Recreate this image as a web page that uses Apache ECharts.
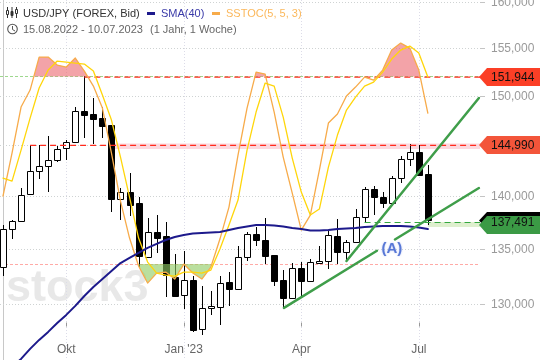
<!DOCTYPE html>
<html>
<head>
<meta charset="utf-8">
<style>html,body{margin:0;padding:0;background:#fff}#c{width:540px;height:360px}</style>
<script src="https://cdn.jsdelivr.net/npm/echarts@6/dist/echarts.min.js"></script>
</head>
<body>
<div id="c"></div>
<script>
const title = 'USD/JPY (FOREX, Bid)';
const dateRange = '15.08.2022 - 10.07.2023';
const rangeNote = '(1 Jahr, 1 Woche)';
const smaName = 'SMA(40)';
const stocName = 'SSTOC(5, 5, 3)';
const watermark = 'stock3';

const xTickIndex = [7, 20, 33, 46];
const xTickLabels = ['Okt', "Jan '23", 'Apr', 'Jul'];
const yTicks = [130, 135, 140, 145, 150, 155, 160];
const yTickLabels = ['130,000', '135,000', '140,000', '', '150,000', '155,000', '160,000'];

const opens = [133.31,136.86,137.61,140.19,142.42,142.91,143.50,144.69,145.35,148.45,148.14,147.74,147.03,139.71,140.38,139.33,134.30,136.57,136.23,132.46,130.79,132.16,127.76,129.62,129.77,131.98,131.37,134.24,136.42,135.85,134.46,132.16,130.56,133.22,132.10,133.75,133.93,136.23,134.76,135.67,137.98,140.67,139.96,139.38,141.74,143.60,144.29,142.16];
const closes = [136.86,137.61,140.09,142.42,142.91,143.50,144.65,145.35,148.42,148.07,147.66,146.96,139.71,140.38,139.19,134.36,136.57,136.07,132.62,130.75,132.16,127.70,129.62,129.80,131.86,131.37,134.24,136.39,135.89,134.39,132.10,130.56,133.22,132.10,133.78,133.93,136.27,134.76,135.64,137.98,140.67,139.96,139.38,141.74,143.60,144.29,142.06,137.73];
const highs = [137.26,137.73,140.79,145.02,145.02,145.92,144.92,145.52,148.85,152.02,149.78,148.85,147.03,140.76,142.23,139.90,137.95,138.20,137.57,134.55,134.85,132.55,131.62,131.17,132.52,132.89,135.30,136.60,137.10,137.89,134.46,133.07,133.69,133.78,134.05,135.30,136.65,137.80,135.85,138.78,140.87,141.00,140.43,141.97,143.93,145.12,145.02,143.04];
const lows = [132.55,135.92,137.61,140.19,141.70,140.44,143.36,143.56,145.25,145.75,145.15,145.72,138.52,137.73,138.11,133.26,134.25,134.61,130.66,130.75,129.56,127.55,127.26,129.03,128.14,129.83,131.37,133.93,135.32,133.62,131.65,129.67,130.56,130.72,131.95,133.75,133.13,133.62,133.93,135.67,137.57,138.20,138.84,139.33,141.30,142.94,142.06,137.26];

const sma40 = [123.8,124.49,125.18,126.05,126.83,127.53,128.32,129.03,129.83,130.72,131.53,132.25,132.98,133.71,134.18,134.65,135.11,135.48,135.85,136.13,136.32,136.46,136.51,136.55,136.60,136.79,136.98,137.12,137.26,137.26,137.21,137.12,136.98,136.88,136.74,136.74,136.79,136.88,136.93,136.98,137.07,137.12,137.17,137.17,137.17,137.12,137.02,136.88];
const sstocK = [41.76,55.52,70.24,75.68,86.24,86.24,83.68,83.04,85.92,81.76,76.96,69.92,55.52,40.16,28.32,19.36,13.92,17.12,17.44,15.2,20.0,17.12,15.2,19.04,28.0,38.24,54.88,69.92,81.44,80.8,68.64,54.24,42.72,30.88,35.68,50.08,65.12,68.0,73.76,76.64,79.84,78.88,82.08,88.48,90.72,89.12,82.08,68.32];
const sstocD = [47.52,46.56,56.48,66.72,76.32,82.08,84.96,84.64,84.32,84.0,81.76,74.08,66.08,54.24,41.44,28.32,20.64,17.12,16.48,16.16,17.44,17.44,17.12,18.08,24.8,32.48,40.48,56.48,68.64,77.92,76.96,67.04,53.92,43.04,35.68,37.6,51.04,61.28,69.28,73.44,76.96,78.24,81.44,85.6,88.48,89.76,87.52,79.84];
const stocUpper = 80;
const stocLower = 20;

const levelPrices = [151.944, 144.990, 137.491];
const levelStarts = [9, 3, 40];
const levelColors = ['#ff2a1c', '#ff2a1c', '#34a83f'];
const tagColors = ['#fb3f26', '#f3553a', '#3b9a45'];
const tagLabels = ['151,944', '144,990', '137,491'];

const bandHigh = [145.17, 137.54];
const bandLow = [144.62, 137.07];
const bandStart = [12, 47];
const bandColors = ['#fcd8de', '#deefce'];

const trendA1 = [[31.08, 129.65], [41.37, 134.85]];
const trendA2 = [[43.36, 135.9], [52.65, 140.79]];
const trendB = [[38, 133.9], [52.65, 149.78]];
const trendLabelPos = [[43.03, 135.0]];

const xMin = -0.33, xMax = 52.77;
const yMin = 125.09, yMax = 160.22;
const FONT = '"Liberation Sans", Arial, sans-serif';

const candleData = opens.map((o, i) => [i, o, closes[i], highs[i], lows[i]]);

function candleItem(params, api) {
  const i = api.value(0);
  const o = api.coord([i, api.value(1)]);
  const c = api.coord([i, api.value(2)]);
  const h = api.coord([i, api.value(3)]);
  const l = api.coord([i, api.value(4)]);
  const X = Math.round(o[0]) + 0.5;
  const up = api.value(2) >= api.value(1);
  const top = Math.round(Math.min(o[1], c[1])) + 0.5;
  const bot = Math.round(Math.max(o[1], c[1])) + 0.5;
  return {
    type: 'group',
    children: [
      { type: 'line', shape: { x1: X, y1: Math.round(h[1]), x2: X, y2: Math.round(l[1]) }, style: { stroke: '#000', lineWidth: 1 } },
      { type: 'rect', shape: { x: X - 3, y: top, width: 6, height: Math.max(bot - top, 1) }, style: { fill: up ? '#fff' : '#000', stroke: '#000', lineWidth: 1 } }
    ]
  };
}

function hLineItem(color, dash, snap) {
  return function (params, api) {
    const p0 = api.coord([api.value(0), api.value(1)]);
    const p1 = api.coord([xMax, api.value(1)]);
    const y = snap(p0[1]) + 0.5;
    return { type: 'line', shape: { x1: p0[0], y1: y, x2: p1[0], y2: y }, style: { stroke: color, lineWidth: 1, lineDash: dash } };
  };
}

function fillRuns(values, level, above) {
  const runs = [];
  let cur = null;
  const test = v => above ? v >= level : v <= level;
  for (let i = 0; i < values.length; i++) {
    const v = values[i];
    if (test(v)) {
      if (!cur) {
        cur = [];
        if (i > 0) cur.push([i - 1 + (level - values[i - 1]) / (v - values[i - 1]), level]);
      }
      cur.push([i, v]);
    } else if (cur) {
      cur.push([i - 1 + (level - values[i - 1]) / (v - values[i - 1]), level]);
      runs.push(cur);
      cur = null;
    }
  }
  if (cur) runs.push(cur);
  return runs;
}

const upperRuns = fillRuns(sstocK, stocUpper, true);
const lowerRuns = fillRuns(sstocK, stocLower, false);

function fillSeries(runs, level, color, z) {
  return {
    type: 'custom', yAxisIndex: 1, z, silent: true,
    data: runs.map(r => [r[0][0], level]),
    renderItem(params, api) {
      const pts = runs[params.dataIndex].map(p => api.coord(p));
      return { type: 'polygon', shape: { points: pts }, style: { fill: color, opacity: 0.62 } };
    }
  };
}

function lineSeries(name, data, color, width, z, yAxisIndex) {
  return { name, type: 'line', data, yAxisIndex: yAxisIndex || 0, showSymbol: false, symbol: 'none', silent: true, z,
    lineStyle: { color, width, cap: 'round', join: 'round' } };
}

const series = [
  {
    type: 'custom', z: 1, silent: true,
    data: yTicks.map(v => [xMin, v]),
    renderItem(params, api) {
      const p0 = api.coord([xMin, api.value(1)]);
      const p1 = api.coord([xMax, api.value(1)]);
      const y = Math.round(p0[1]) + 0.5;
      const lab = yTickLabels[params.dataIndex];
      const kids = [
        { type: 'line', shape: { x1: p0[0], y1: y, x2: p1[0], y2: y }, style: { stroke: '#cfd3d3', lineWidth: 1, lineDash: [1, 2] } },
        { type: 'line', shape: { x1: p1[0], y1: y, x2: p1[0] + 5, y2: y }, style: { stroke: '#c4c4c4', lineWidth: 1 } }
      ];
      if (lab) kids.push({ type: 'text', style: { text: lab, x: p1[0] + 11, y, fill: '#9a9a9a', font: '12px ' + FONT, textAlign: 'left', textVerticalAlign: 'middle' } });
      return { type: 'group', children: kids };
    }
  },
  { type: 'custom', yAxisIndex: 1, z: 1, silent: true, data: [[xMin, stocUpper]], renderItem: hLineItem('#9ed88e', [3, 2], Math.floor) },
  { type: 'custom', yAxisIndex: 1, z: 1, silent: true, data: [[xMin, stocLower]], renderItem: hLineItem('#ffaaa6', [3, 2], Math.round) },
  {
    type: 'custom', z: 1, silent: true,
    data: bandHigh.map((v, i) => [bandStart[i], v, bandLow[i]]),
    renderItem(params, api) {
      const a = api.coord([api.value(0), api.value(1)]);
      const b = api.coord([xMax, api.value(2)]);
      return { type: 'rect', shape: { x: a[0], y: a[1], width: b[0] - a[0], height: b[1] - a[1] }, style: { fill: bandColors[params.dataIndex] } };
    }
  },
  ...levelPrices.map((v, i) => ({
    name: 'Level ' + tagLabels[i], type: 'line', z: 4, silent: true, showSymbol: false, symbol: 'none',
    data: [[levelStarts[i], v], [xMax, v]],
    lineStyle: { color: levelColors[i], width: 1.2, type: [6, 4] }
  })),
  { name: title, type: 'custom', z: 3, silent: true, data: candleData, renderItem: candleItem },
  fillSeries(upperRuns, stocUpper, '#ec6a72', 5),
  fillSeries(lowerRuns, stocLower, '#8fcb62', 5),
  lineSeries(stocName + ' K', sstocK.map((v, i) => [i, v]), '#f7ab4a', 1.3, 6, 1),
  lineSeries(stocName + ' D', sstocD.map((v, i) => [i, v]), '#ffd60a', 1.3, 6, 1),
  lineSeries(smaName, sma40.map((v, i) => [i, v]), '#1d1a8c', 2, 7),
  lineSeries('Trend A', trendA1, '#3f9e4a', 2.5, 8),
  lineSeries('Trend A', trendA2, '#3f9e4a', 2.5, 8),
  lineSeries('Trend B', trendB, '#3f9e4a', 2.5, 8),
  {
    type: 'scatter', z: 9, silent: true, symbolSize: 0, data: trendLabelPos,
    label: { show: true, position: 'inside', formatter: '(A)', color: '#3a5fcd', fontWeight: 'bold', fontSize: 15, fontFamily: 'Liberation Sans', textShadowColor: '#aebcf0', textShadowBlur: 2 }
  },
  {
    type: 'custom', z: 10, silent: true,
    data: levelPrices.map(v => [xMax, v]),
    renderItem(params, api) {
      const p = api.coord([xMax, api.value(1)]);
      const i = params.dataIndex;
      const x = p[0], y = Math.round(p[1]);
      const poly = (t, b, fill) => ({ type: 'polygon', shape: { points: [[x - 1, (t + b) / 2], [x + 7, t], [540, t], [540, b], [x + 7, b]] }, style: { fill } });
      const kids = [];
      if (i === 2) {
        kids.push(poly(y - 11, y + 6, '#000'));
        kids.push(poly(y - 7, y + 11, tagColors[i]));
      } else {
        kids.push(poly(y - 9, y + 9, tagColors[i]));
      }
      kids.push({ type: 'text', style: { text: tagLabels[i], x: x + 11, y: y + (i === 2 ? 0 : 0.5), fill: '#111', font: '12px ' + FONT, textAlign: 'left', textVerticalAlign: 'middle' } });
      return { type: 'group', children: kids };
    }
  }
];

function txt(text, x, y, fill) {
  return { type: 'text', z: 20, style: { text, x, y, fill, font: '11px ' + FONT, textAlign: 'left', textVerticalAlign: 'middle' } };
}
function iconLine(x1, y1, x2, y2, c, w) {
  return { type: 'line', z: 20, shape: { x1, y1, x2, y2 }, style: { stroke: c, lineWidth: w || 1 } };
}
function iconBox(x, y, w, h, fill, stroke) {
  return { type: 'rect', z: 20, shape: { x, y, width: w, height: h }, style: { fill, stroke: stroke || null, lineWidth: 1 } };
}

const graphics = [
  { type: 'text', z: 0, style: { text: watermark, x: 6, y: 289, fill: '#e8e8e8', font: 'bold 45px ' + FONT, textAlign: 'left', textVerticalAlign: 'middle' } },
  iconLine(7.5, 7, 7.5, 18, '#333'), iconBox(6.5, 10.5, 2, 4, '#fff', '#333'),
  iconLine(12, 7, 12, 18, '#333'), iconBox(11, 11.5, 2, 4, '#333', '#333'),
  iconLine(16.5, 7, 16.5, 18, '#333'), iconBox(15.5, 9.5, 2, 4, '#fff', '#333'),
  txt(title, 23, 13.5, '#333'),
  iconBox(147, 12, 8, 3, '#1d1a8c'),
  txt(smaName, 161, 13.5, '#3a3aa8'),
  iconBox(212, 12, 8, 3, '#f7ab4a'),
  txt(stocName, 226, 13.5, '#fbb85c'),
  { type: 'circle', z: 20, shape: { cx: 12.5, cy: 29, r: 4.8 }, style: { fill: 'none', stroke: '#555', lineWidth: 1.1 } },
  iconLine(12.5, 26, 12.5, 29.5, '#555'), iconLine(12.5, 29.5, 15, 31, '#555'),
  txt(dateRange, 23, 29.5, '#666'),
  txt(rangeNote, 150, 29.5, '#666')
];

const chart = echarts.init(document.getElementById('c'), null, { renderer: 'canvas' });
chart.setOption({
  animation: false,
  backgroundColor: '#fff',
  grid: { left: 0, top: 0, width: 480, height: 360, containLabel: false },
  graphic: graphics,
  xAxis: {
    type: 'value', min: xMin, max: xMax, position: 'bottom',
    axisLine: { show: false },
    axisTick: { show: true, inside: true, length: 4, customValues: xTickIndex, lineStyle: { color: '#999' } },
    axisLabel: { show: true, inside: true, margin: 4, customValues: xTickIndex, color: '#666', fontFamily: 'Liberation Sans', fontSize: 12,
      hideOverlap: false, showMinLabel: true, showMaxLabel: true,
      formatter: v => xTickLabels[xTickIndex.indexOf(v)] || '' },
    splitLine: { show: true, lineStyle: { color: '#dcdce8', type: [1, 2], width: 1 } }
  },
  yAxis: [
    { type: 'log', position: 'right', min: yMin, max: yMax,
      axisLine: { show: true, lineStyle: { color: '#c8c8c8' } }, axisTick: { show: false }, axisLabel: { show: false }, splitLine: { show: false } },
    { type: 'value', min: -10.7, max: 104.5, show: false, splitLine: { show: false } }
  ],
  series
});
</script>
</body>
</html>
